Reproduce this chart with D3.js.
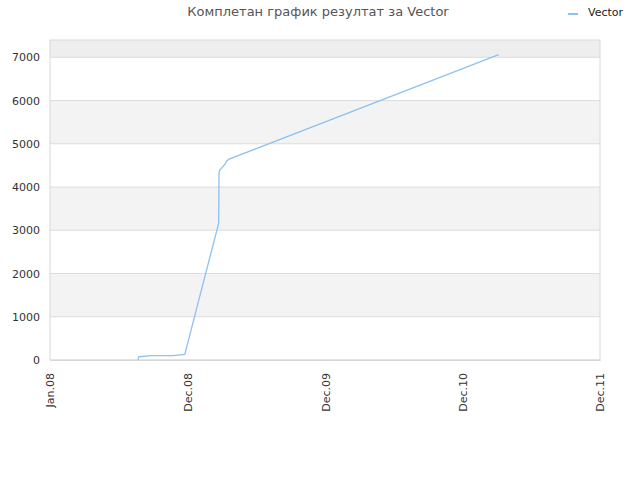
<!DOCTYPE html>
<html>
<head>
<meta charset="utf-8">
<script src="https://cdn.jsdelivr.net/npm/d3@7"></script>
<style>
  body { margin: 0; background: #fff; }
  svg { font-family: "DejaVu Sans", sans-serif; }
</style>
</head>
<body>
<div id="chart-area"></div>
<script>
const TITLE = "Комплетан график резултат за Vector"
const SERIES = "Vector"

// x tick labels, one per year boundary
const tickDates = ["2008-01-01", "2009-01-01", "2010-01-01", "2011-01-01", "2012-01-01"]
const tickLabels = ["Jan.08", "Dec.08", "Dec.09", "Dec.10", "Dec.11"]
const yTicks = [0, 1000, 2000, 3000, 4000, 5000, 6000, 7000]

// series
const dates = [
  "2008-08-22", "2008-08-23", "2008-08-25", "2008-09-26", "2008-11-22",
  "2008-12-24", "2009-03-24", "2009-03-25", "2009-03-27", "2009-04-02",
  "2009-04-10", "2009-04-15", "2009-04-22", "2011-04-07"
]
const values = [
  0, 70, 75, 100, 100,
  130, 3160, 4320, 4390, 4450,
  4530, 4610, 4650, 7060
]

const MARGIN = { LEFT: 50, RIGHT: 40, TOP: 40, BOTTOM: 120 }
const WIDTH = 640 - MARGIN.LEFT - MARGIN.RIGHT
const HEIGHT = 480 - MARGIN.TOP - MARGIN.BOTTOM

const parse = d3.timeParse("%Y-%m-%d")
const data = dates.map((d, i) => ({ date: parse(d), value: values[i] }))

const svg = d3.select("#chart-area")
  .append("svg")
    .attr("width", 640)
    .attr("height", 480)

const g = svg.append("g")
  .attr("transform", `translate(${MARGIN.LEFT}, ${MARGIN.TOP})`)

const x = d3.scaleTime()
  .domain([parse(tickDates[0]), parse(tickDates[tickDates.length - 1])])
  .range([0, WIDTH])

const y = d3.scaleLinear()
  .domain([0, 7400])
  .range([HEIGHT, 0])

// alternating bands
const bands = d3.range(0, 7400, 1000).map(v => ({ lo: v, hi: Math.min(v + 1000, 7400) }))
g.selectAll(".band")
  .data(bands)
  .enter().append("rect")
    .attr("class", "band")
    .attr("x", 0)
    .attr("width", WIDTH)
    .attr("y", d => y(d.hi))
    .attr("height", d => y(d.lo) - y(d.hi))
    .attr("fill", d => d.lo === 7000 ? "#eeeeee" : (d.lo / 1000) % 2 === 1 ? "#f3f3f3" : "#ffffff")

// grid lines
g.selectAll(".grid")
  .data(yTicks)
  .enter().append("line")
    .attr("x1", 0)
    .attr("x2", WIDTH)
    .attr("y1", d => y(d))
    .attr("y2", d => y(d))
    .attr("stroke", "#dddddd")

// frame
g.append("rect")
  .attr("width", WIDTH)
  .attr("height", HEIGHT)
  .attr("fill", "none")
  .attr("stroke", "#d8d8d8")

// y axis
const yAxis = g.append("g")
  .call(d3.axisLeft(y).tickValues(yTicks).tickFormat(d3.format("d")).tickSize(0).tickPadding(10))
yAxis.select(".domain").remove()
yAxis.selectAll("text")
  .attr("font-size", "11px")
  .attr("fill", "#333")
  .attr("font-family", "DejaVu Sans, sans-serif")

// x axis
const xAxis = g.append("g")
  .attr("transform", `translate(0, ${HEIGHT})`)
  .call(d3.axisBottom(x)
    .tickValues(tickDates.map(parse))
    .tickFormat((d, i) => tickLabels[i])
    .tickSize(0))
xAxis.select(".domain").attr("stroke", "#d8d8d8")
xAxis.selectAll("text")
  .attr("font-size", "11px")
  .attr("fill", "#333")
  .attr("font-family", "DejaVu Sans, sans-serif")
  .attr("text-anchor", "end")
  .attr("dy", "0.35em")
  .attr("transform", "translate(0, 13) rotate(-90)")
  .attr("y", 0)
  .attr("x", 0)

// line
const line = d3.line()
  .x(d => x(d.date))
  .y(d => y(d.value))

g.append("path")
  .datum(data)
  .attr("fill", "none")
  .attr("stroke", "#8fc1f2")
  .attr("stroke-width", 1.3)
  .attr("d", line)

// title
svg.append("text")
  .attr("x", 318)
  .attr("y", 16)
  .attr("text-anchor", "middle")
  .attr("font-size", "13px")
  .attr("fill", "#555")
  .text(TITLE)

// legend
svg.append("line")
  .attr("x1", 568).attr("x2", 578)
  .attr("y1", 14).attr("y2", 14)
  .attr("stroke", "#8fc1f2")
  .attr("stroke-width", 2)
svg.append("text")
  .attr("x", 588)
  .attr("y", 16)
  .attr("font-size", "11px")
  .attr("fill", "#222")
  .text(SERIES)
</script>
</body>
</html>
